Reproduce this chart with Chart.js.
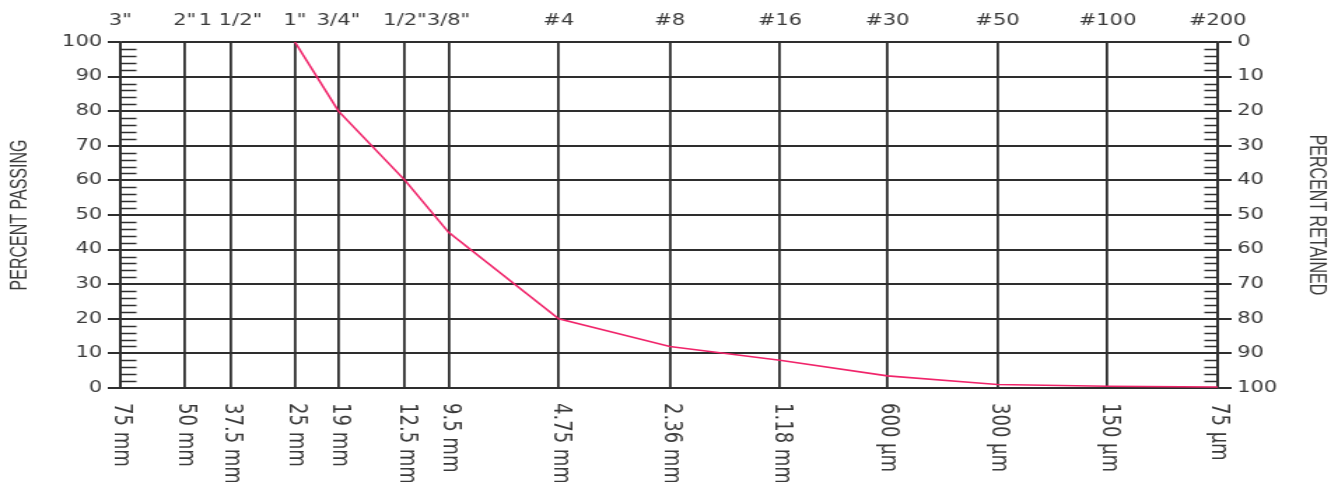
<!DOCTYPE html>
<html>
<head>
<meta charset="utf-8">
<script src="https://cdn.jsdelivr.net/npm/chart.js@4.4.1/dist/chart.umd.min.js"></script>
<style>
  html, body { margin: 0; padding: 0; background: #fff; overflow: hidden; }
  /* The drawing surface is rendered narrow and widened by CSS,
     which gives the broad lettering and heavy verticals of the printed form. */
  #grading { display: block; width: 1331px !important; height: 482px !important; }
</style>
</head>
<body>
<canvas id="grading" width="951" height="482"></canvas>
<script>
// Sieve openings in mm, coarse to fine
const sieveSizes = [75, 50, 37.5, 25, 19, 12.5, 9.5, 4.75, 2.36, 1.18, 0.6, 0.3, 0.15, 0.075];
// Sieve designations along the top
const sieveNames = ['3"', '2"', '1 1/2"', '1"', '3/4"', '1/2"', '3/8"', '#4', '#8', '#16', '#30', '#50', '#100', '#200'];
// Sieve openings along the bottom
const sieveOpenings = ['75 mm', '50 mm', '37.5 mm', '25 mm', '19 mm', '12.5 mm', '9.5 mm', '4.75 mm',
                       '2.36 mm', '1.18 mm', '600 µm', '300 µm', '150 µm', '75 µm'];
// Percent scale tick values (passing on the left, retained on the right)
const percentTicks = [0, 10, 20, 30, 40, 50, 60, 70, 80, 90, 100];

// Gradation curve
const gradationSizes = [25, 19, 12.5, 9.5, 4.75, 2.36, 1.18, 0.6, 0.3, 0.15, 0.075];
const percentPassing = [100, 80, 60, 45, 20, 12, 8, 3.5, 1, 0.5, 0.3];

const INK = '#2e2e2e';
const TEXT = '#3a3a3a';
const tickFont = { family: '"DejaVu Sans", Verdana, sans-serif', size: 15 };
const titleFont = { family: '"Liberation Sans", Arial, sans-serif', size: 16 };

const sieveTicks = scale => { scale.ticks = sieveSizes.map(v => ({ value: v })); };
const percentTickList = scale => { scale.ticks = percentTicks.map(v => ({ value: v })); };

// Short 2% marks just inside both vertical edges of the plot
const minorTicks = {
  id: 'minorTicks',
  afterDatasetsDraw(chart) {
    const { ctx, chartArea: a, scales: { y } } = chart;
    ctx.save();
    ctx.strokeStyle = INK;
    ctx.lineWidth = 1.3;
    ctx.beginPath();
    for (let v = 2; v < 100; v += 2) {
      if (v % 10 === 0) continue;
      const py = Math.round(y.getPixelForValue(v)) + 0.5;
      ctx.moveTo(a.left, py);
      ctx.lineTo(a.left + 11.5, py);
      ctx.moveTo(a.right - 9.5, py);
      ctx.lineTo(a.right, py);
    }
    ctx.stroke();
    ctx.restore();
  }
};

// Opening sizes written downward beneath each sieve line
const openingLabels = {
  id: 'openingLabels',
  afterDraw(chart) {
    const { ctx, scales: { x } } = chart;
    ctx.save();
    ctx.font = '18px "DejaVu Sans", Verdana, sans-serif';
    ctx.fillStyle = TEXT;
    ctx.textAlign = 'left';
    ctx.textBaseline = 'middle';
    sieveSizes.forEach((size, i) => {
      const px = x.getPixelForValue(size) + 1;
      ctx.save();
      ctx.translate(px, x.top + 15);
      ctx.rotate(Math.PI / 2);
      ctx.fillText(sieveOpenings[i], 0, 0);
      ctx.restore();
    });
    ctx.restore();
  }
};

new Chart(document.getElementById('grading'), {
  type: 'line',
  data: {
    datasets: [{
      data: gradationSizes.map((s, i) => ({ x: s, y: percentPassing[i] })),
      borderColor: '#f0246a',
      borderWidth: 1.6,
      pointRadius: 0,
      tension: 0,
      fill: false,
      xAxisID: 'x',
      yAxisID: 'y'
    }]
  },
  options: {
    responsive: false,
    devicePixelRatio: 1,
    animation: false,
    layout: { padding: 0 },
    plugins: { legend: { display: false }, tooltip: { enabled: false } },
    scales: {
      x: {
        type: 'logarithmic', position: 'bottom', reverse: true, min: 0.075, max: 75,
        afterBuildTicks: sieveTicks,
        afterFit: s => { s.height = 94; },
        grid: { color: INK, lineWidth: 1.8, drawTicks: false },
        border: { color: INK, width: 1.8 },
        ticks: { display: false }
      },
      x2: {
        type: 'logarithmic', position: 'top', reverse: true, min: 0.075, max: 75,
        afterBuildTicks: sieveTicks,
        afterFit: s => { s.height = 42; },
        grid: { display: false, drawTicks: false },
        border: { display: false },
        ticks: {
          autoSkip: false, maxRotation: 0, minRotation: 0, padding: 12,
          font: tickFont, color: TEXT,
          callback: v => sieveNames[sieveSizes.indexOf(v)]
        }
      },
      y: {
        type: 'linear', position: 'left', min: 0, max: 100,
        afterBuildTicks: percentTickList,
        afterFit: s => { s.width = 86; },
        grid: { color: INK, lineWidth: 2, tickLength: 9 },
        border: { color: INK, width: 1.8 },
        ticks: { padding: 4, font: tickFont, color: TEXT },
        title: { display: true, text: 'PERCENT PASSING', font: titleFont, color: TEXT, padding: { top: 5, bottom: 0 } }
      },
      y2: {
        type: 'linear', position: 'right', reverse: true, min: 0, max: 100,
        afterBuildTicks: percentTickList,
        afterFit: s => { s.width = 81; },
        grid: { drawOnChartArea: false, color: INK, lineWidth: 2, tickLength: 10 },
        border: { color: INK, width: 1.8 },
        ticks: { padding: 4, font: tickFont, color: TEXT },
        title: { display: true, text: 'PERCENT RETAINED', font: titleFont, color: TEXT, padding: { top: 1, bottom: 0 } }
      }
    }
  },
  plugins: [minorTicks, openingLabels]
});
</script>
</body>
</html>
